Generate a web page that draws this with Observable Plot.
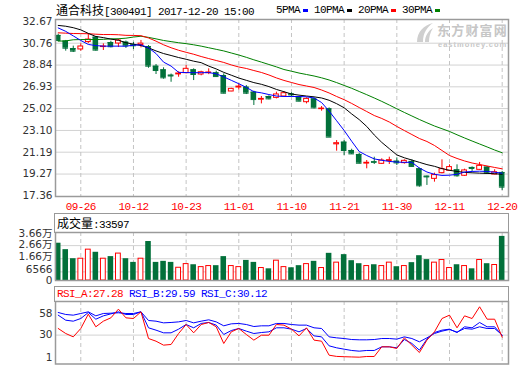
<!DOCTYPE html>
<html><head><meta charset="utf-8">
<script src="https://cdn.jsdelivr.net/npm/d3@7"></script>
<script src="https://cdn.jsdelivr.net/npm/@observablehq/plot@0.6"></script>
<style>
body{margin:0;background:#fff;}
#wrap{position:relative;width:520px;height:365px;overflow:hidden;background:#fff;}
.abs{position:absolute;white-space:nowrap;}
.mono{font-family:"Liberation Mono",monospace;font-size:11px;letter-spacing:-0.6px;}
.cjk{font-family:"Noto Sans CJK SC",sans-serif;font-size:12px;letter-spacing:0;}
.box{position:absolute;border:1.5px solid #999;box-sizing:border-box;}
</style></head><body><div id="wrap"></div>
<script>
const dates = ["09-21","09-22","09-25","09-26","09-27","09-28","09-29","10-09","10-10","10-11","10-12","10-13","10-16","10-17","10-18","10-19","10-20","10-23","10-24","10-25","10-26","10-27","10-30","10-31","11-01","11-02","11-03","11-06","11-07","11-08","11-09","11-10","11-13","11-14","11-15","11-16","11-17","11-20","11-21","11-22","11-23","11-24","11-27","11-28","11-29","11-30","12-01","12-04","12-05","12-06","12-07","12-08","12-11","12-12","12-13","12-14","12-15","12-18","12-19","12-20"];
const tickLabels = ["09-26","10-12","10-23","11-01","11-10","11-21","11-30","12-11","12-20"];
const open  = [31.44,30.94,30.29,30.21,30.86,31.29,30.42,30.82,30.73,30.85,30.62,30.60,30.47,28.74,28.42,27.95,28.02,28.13,28.42,28.01,28.13,28.16,27.92,26.52,26.87,26.90,26.46,25.80,26.08,25.96,26.08,26.30,26.02,25.58,25.87,24.97,25.00,21.88,22.07,21.34,20.99,20.19,20.35,20.17,20.42,20.40,20.23,20.38,19.73,19.08,18.85,19.35,19.56,19.64,19.12,19.85,19.64,19.88,19.23,19.41];
const high  = [31.55,31.00,30.50,30.70,31.55,31.35,30.70,30.93,31.12,30.95,30.83,31.00,30.55,28.89,28.60,28.05,28.25,28.80,28.51,28.30,28.51,28.30,28.07,26.80,27.19,27.04,26.55,26.08,26.14,26.46,26.52,26.40,26.08,25.96,25.96,25.20,25.08,22.21,22.21,21.45,21.10,20.46,20.75,20.61,20.75,20.69,20.52,20.52,19.79,19.10,19.35,20.52,20.08,20.08,19.70,19.90,20.29,19.94,19.65,19.50];
const low   = [30.90,30.06,29.94,30.06,30.72,30.06,30.12,30.35,30.38,30.30,30.20,30.35,28.56,28.01,27.60,27.33,27.77,28.07,27.48,27.90,28.00,27.77,26.31,26.50,26.66,26.25,25.29,25.43,25.79,25.87,26.02,26.05,25.61,25.43,24.99,24.79,22.50,21.28,20.90,20.99,20.17,19.73,20.11,20.11,20.11,20.02,20.14,19.85,18.12,18.27,18.56,19.29,19.50,19.00,19.06,19.50,19.59,19.26,19.20,17.83];
const close = [31.00,30.32,30.06,30.47,31.08,30.15,30.47,30.45,31.00,30.52,30.53,30.72,28.74,28.36,27.72,27.88,28.10,28.51,28.01,28.21,28.19,27.83,26.37,26.75,26.95,26.37,25.81,25.87,25.87,26.26,26.37,26.22,25.67,25.87,25.08,25.02,22.51,21.98,21.34,21.04,20.22,20.26,20.30,20.46,20.49,20.25,20.43,19.94,18.24,19.02,19.18,19.70,19.88,19.12,19.59,19.76,19.99,19.35,19.43,18.12];
const volume = [28400,23500,16600,16600,23500,21500,16600,18200,20500,16600,13800,16600,29700,13800,14600,13800,9700,12500,12000,10200,11000,11300,18200,11000,10200,15300,13800,9500,8900,15100,10200,9700,11300,12500,14600,9500,20700,13600,19700,15100,12800,11000,12000,11000,13600,10500,11000,13600,18900,15900,13600,15600,9500,12000,11000,8900,15600,12800,11800,33597];
const ma5  = [32.10,31.80,31.40,31.00,30.65,30.55,30.50,30.50,30.50,30.50,30.58,30.62,30.35,29.85,29.10,28.75,28.20,28.18,28.17,28.17,28.18,28.07,27.80,27.50,27.20,26.88,26.50,26.40,26.25,26.12,26.08,26.08,26.08,26.05,25.95,25.55,24.80,23.95,23.10,22.15,21.25,20.90,20.60,20.48,20.38,20.32,20.30,20.30,19.80,19.45,19.25,19.15,19.17,19.25,19.45,19.50,19.52,19.50,19.43,19.35];
const ma10 = [32.32,32.25,32.12,31.93,31.62,31.35,31.25,31.12,31.02,30.80,30.68,30.55,30.35,30.08,29.85,29.68,29.50,29.35,29.18,29.05,28.75,28.50,28.20,27.95,27.70,27.50,27.30,27.15,26.95,26.70,26.50,26.30,26.20,26.12,26.05,25.95,25.75,25.45,25.09,24.55,24.05,23.45,22.70,22.05,21.50,20.95,20.70,20.50,20.30,20.10,19.95,19.75,19.60,19.50,19.42,19.38,19.35,19.33,19.30,19.25];
const ma20 = [31.67,31.64,31.61,31.60,31.59,31.55,31.52,31.52,31.50,31.45,31.44,31.42,31.22,30.94,30.62,30.36,30.14,29.96,29.79,29.59,29.41,29.24,29.07,28.85,28.67,28.54,28.36,28.19,27.97,27.71,27.49,27.31,27.13,27.00,26.87,26.65,26.39,26.08,25.80,25.47,25.11,24.76,24.41,24.15,23.84,23.45,23.09,22.74,22.39,22.13,21.78,21.34,20.90,20.64,20.42,20.24,20.11,19.98,19.85,19.73];
const ma30 = [30.94,30.96,31.06,31.08,31.08,31.08,31.10,31.14,31.15,31.20,31.30,31.37,31.27,31.14,31.00,30.90,30.80,30.72,30.62,30.50,30.36,30.22,30.08,29.90,29.72,29.52,29.30,29.10,28.89,28.68,28.45,28.30,28.14,28.01,27.88,27.72,27.53,27.30,27.05,26.80,26.52,26.24,25.95,25.65,25.33,25.00,24.68,24.37,24.06,23.77,23.49,23.25,23.01,22.72,22.44,22.17,21.91,21.65,21.38,21.14];
const rsiA = [38.7,32.1,27.7,38.7,57.5,40.9,48.3,52.7,64.1,52.7,51.8,60.6,25.5,22.0,16.8,17.7,32.1,43.9,33.0,43.9,46.6,40.9,19.0,34.3,38.7,30.8,23.4,29.9,29.9,43.9,43.1,37.8,29.0,39.6,23.4,22.0,3.6,2.0,1.6,1.3,1.0,1.9,1.9,14.6,14.6,12.4,26.4,16.8,7.1,23.4,34.3,51.8,56.2,39.6,55.3,51.8,67.2,50.9,50.9,27.28];
const rsiB = [56.2,49.6,48.3,51.8,59.7,50.9,55.3,57.9,60.6,57.1,57.1,60.6,39.6,36.5,33.0,33.0,37.8,43.9,39.6,45.3,46.6,43.1,30.8,36.0,38.7,35.2,32.1,33.4,34.3,39.6,39.6,37.8,34.3,38.7,29.0,27.7,15.9,13.3,11.5,9.8,8.9,9.8,9.8,14.6,14.6,13.3,24.2,19.0,10.2,24.7,33.4,36.5,37.8,33.4,40.9,39.6,46.6,40.9,40.9,29.59];
const rsiC = [59.7,57.1,56.2,58.4,60.6,55.3,58.4,58.8,59.3,58.4,58.4,60.6,49.2,48.3,46.1,46.6,47.4,49.2,46.1,48.3,50.1,47.4,42.2,44.8,45.3,43.9,41.3,42.2,42.2,45.3,45.3,43.9,43.1,43.1,39.6,38.7,27.7,26.4,25.5,24.2,23.8,23.8,24.2,25.5,25.5,24.7,27.7,25.5,21.2,26.4,32.1,35.2,37.4,33.9,38.7,37.8,40.9,38.7,38.7,30.12];
const priceTicks = [17.36,19.27,21.19,23.10,25.02,26.93,28.84,30.76,32.67];
const volTicks = [0,6566,16566,26566,36566];
const volTickLabels = ["0","6566","1.66万","2.66万","3.66万"];
const rsiTicks = [1,30,58];
const maNames = ["5PMA","10PMA","20PMA","30PMA"];
const maColors = ["#0000ff","#000000","#ff0000","#008000"];

const RED = "#ff0000", GREEN = "#02703a", HGRID = "#d2d2d2", VGRID = "#c4c4c4", FRAME = "#9a9a9a";
const AXFONT = "DejaVu Sans, Noto Sans CJK SC";
const days = dates.map((d, i) => ({i, date: d, open: open[i], high: high[i], low: low[i], close: close[i], volume: volume[i],
  ma5: ma5[i], ma10: ma10[i], ma20: ma20[i], ma30: ma30[i], rsiA: rsiA[i], rsiB: rsiB[i], rsiC: rsiC[i]}));
const ups = days.filter(d => d.close >= d.open);
const downs = days.filter(d => d.close < d.open);
const tickIdx = tickLabels.map(t => dates.indexOf(t));
const xDomain = [-0.36, 59.84];
const hw = 0.37, hu = 0.32;
const common = {width: 520, marginLeft: 55, marginRight: 12,
  style: {background: "transparent", fontFamily: AXFONT, fontSize: "10.5px", color: "#333", overflow: "visible"}};
const yAxisOpts = {tickSize: 0, tickPadding: 3, fontSize: 10.5, fontFamily: AXFONT, color: "#333", label: null};

const wrap = document.getElementById("wrap");
function place(el, top) { el.style.position = "absolute"; el.style.left = "0px"; el.style.top = top + "px"; wrap.appendChild(el); }
function html(s) { const t = document.createElement("template"); t.innerHTML = s.trim(); return t.content.firstChild; }

// watermark (behind the chart)
wrap.appendChild(html(`<div class="abs" style="left:414px;top:22px;width:20px;height:21px;">
<svg width="20" height="21"><path d="M3 20 C 3 10, 10 3, 19 1 C 13 5, 9 11, 9 20 Z" fill="#cfcfcf"/><path d="M11 20 C 11 14, 14 9, 19 6 C 16 11, 15 15, 15 20 Z" fill="#cfcfcf"/></svg></div>`));
wrap.appendChild(html(`<div class="abs" style="left:437px;top:23px;font-family:'Noto Sans CJK SC';font-weight:bold;font-size:13px;line-height:13px;color:#c6c6c6;letter-spacing:1.2px;">东方财富网</div>`));
wrap.appendChild(html(`<div class="abs" style="left:438px;top:40.5px;font-family:'Liberation Sans';font-weight:bold;font-size:7.5px;line-height:7px;color:#c6c6c6;letter-spacing:1px;">eastmoney.com</div>`));

// price panel
const price = Plot.plot({...common, height: 212, marginTop: 19, marginBottom: 16,
  x: {domain: xDomain, axis: null, label: null},
  y: {domain: [17.30, 32.84], axis: null, label: null},
  marks: [
    Plot.ruleY(priceTicks.slice(1, -1), {stroke: HGRID}),
    Plot.ruleX(tickIdx, {stroke: VGRID, strokeDasharray: "4,3"}),
    Plot.ruleX(downs, {x: "i", y1: "low", y2: "high", stroke: GREEN}),
    Plot.ruleX(ups, {x: "i", y1: "low", y2: "high", stroke: RED}),
    Plot.rect(downs, {x1: d => d.i - hw, x2: d => d.i + hw, y1: "close", y2: "open", fill: GREEN}),
    Plot.ruleY(downs, {x1: d => d.i - hw, x2: d => d.i + hw, y: "open", stroke: GREEN}),
    Plot.ruleY(downs, {x1: d => d.i - hw, x2: d => d.i + hw, y: "close", stroke: GREEN}),
    Plot.rect(ups, {x1: d => d.i - hu, x2: d => d.i + hu, y1: "open", y2: "close", fill: "white", stroke: RED, strokeWidth: 1}),
    Plot.line(days, {x: "i", y: "ma30", stroke: maColors[3], strokeWidth: 1}),
    Plot.line(days, {x: "i", y: "ma20", stroke: maColors[2], strokeWidth: 1}),
    Plot.line(days, {x: "i", y: "ma10", stroke: maColors[1], strokeWidth: 1}),
    Plot.line(days, {x: "i", y: "ma5", stroke: maColors[0], strokeWidth: 1}),
    Plot.axisY(priceTicks, {...yAxisOpts, tickFormat: d => d.toFixed(2)}),
    Plot.axisX(tickIdx, {tickSize: 0, tickPadding: 6, tickFormat: i => dates[i], color: RED, fontSize: 11, fontFamily: "Liberation Mono", label: null}),
    Plot.frame({stroke: FRAME, strokeWidth: 1.5})
  ]
});
price.querySelectorAll('g[aria-label="x-axis tick label"] text').forEach(t => t.setAttribute("letter-spacing", "-0.6"));
place(price, 0);

// volume panel
const volDy = [0, -2.5, -2.5, -1, 1.3];
wrap.appendChild(html(`<div class="box" style="left:54.25px;top:213.25px;width:454.5px;height:19.5px;"></div>`));
const vol = Plot.plot({...common, height: 67, marginTop: 18, marginBottom: 1,
  x: {domain: xDomain, axis: null, label: null},
  y: {domain: [0, 36566], axis: null, label: null},
  marks: [
    Plot.ruleY(volTicks.slice(1, -1), {stroke: HGRID}),
    Plot.ruleX(tickIdx, {stroke: VGRID, strokeDasharray: "4,3"}),
    Plot.rect(downs, {x1: d => d.i - hw, x2: d => d.i + hw, y1: d => 0, y2: "volume", fill: GREEN}),
    Plot.rect(ups, {x1: d => d.i - hu, x2: d => d.i + hu, y1: d => 0, y2: "volume", fill: "white", stroke: RED, strokeWidth: 1}),
    ...volTicks.map((t, k) => Plot.axisY([t], {...yAxisOpts, dy: volDy[k], tickFormat: () => volTickLabels[k]})),
    Plot.frame({stroke: FRAME, strokeWidth: 1.5})
  ]
});
place(vol, 214);
wrap.appendChild(html(`<div class="abs" style="left:57px;top:215px;line-height:16px;color:#000;"><span class="cjk">成交量</span><span class="mono">:${volume[volume.length - 1]}</span></div>`));

// RSI panel
wrap.appendChild(html(`<div class="box" style="left:54.25px;top:285.95px;width:454.5px;height:15.8px;"></div>`));
const rsi = Plot.plot({...common, height: 78, marginTop: 14, marginBottom: 1.5,
  x: {domain: xDomain, axis: null, label: null},
  y: {domain: [-7.97, 74.16], axis: null, label: null},
  marks: [
    Plot.ruleY([30], {stroke: HGRID}),
    Plot.ruleX(tickIdx, {stroke: VGRID, strokeDasharray: "4,3"}),
    Plot.line(days, {x: "i", y: "rsiC", stroke: "#0000ff", strokeWidth: 1}),
    Plot.line(days, {x: "i", y: "rsiB", stroke: "#0000ff", strokeWidth: 1}),
    Plot.line(days, {x: "i", y: "rsiA", stroke: "#ff0000", strokeWidth: 1}),
    Plot.axisY(rsiTicks, {...yAxisOpts, tickFormat: d => String(d)}),
    Plot.frame({stroke: FRAME, strokeWidth: 1.5})
  ]
});
place(rsi, 287);
const last = days[days.length - 1];
wrap.appendChild(html(`<div class="abs mono" style="left:57px;top:286px;line-height:16px;"><span style="color:#f00">RSI_A:${last.rsiA.toFixed(2)}</span> <span style="color:#00f">RSI_B:${last.rsiB.toFixed(2)}</span> <span style="color:#00f">RSI_C:${last.rsiC.toFixed(2)}</span></div>`));

// title and legend
wrap.appendChild(html(`<div class="abs" style="left:56px;top:2px;line-height:16px;color:#000;"><span class="cjk">通合科技</span><span class="mono">[300491] 2017-12-20 15:00</span></div>`));
let lx = 276;
maNames.forEach((n, k) => {
  wrap.appendChild(html(`<div class="abs mono" style="left:${lx}px;top:2px;line-height:16px;color:#000;">${n}</div>`));
  const w = n.length * 6;
  wrap.appendChild(html(`<div class="abs" style="left:${lx + w + 3}px;top:9px;width:5px;height:3px;background:${maColors[k]};"></div>`));
  lx += w + 14;
});
</script></body></html>
